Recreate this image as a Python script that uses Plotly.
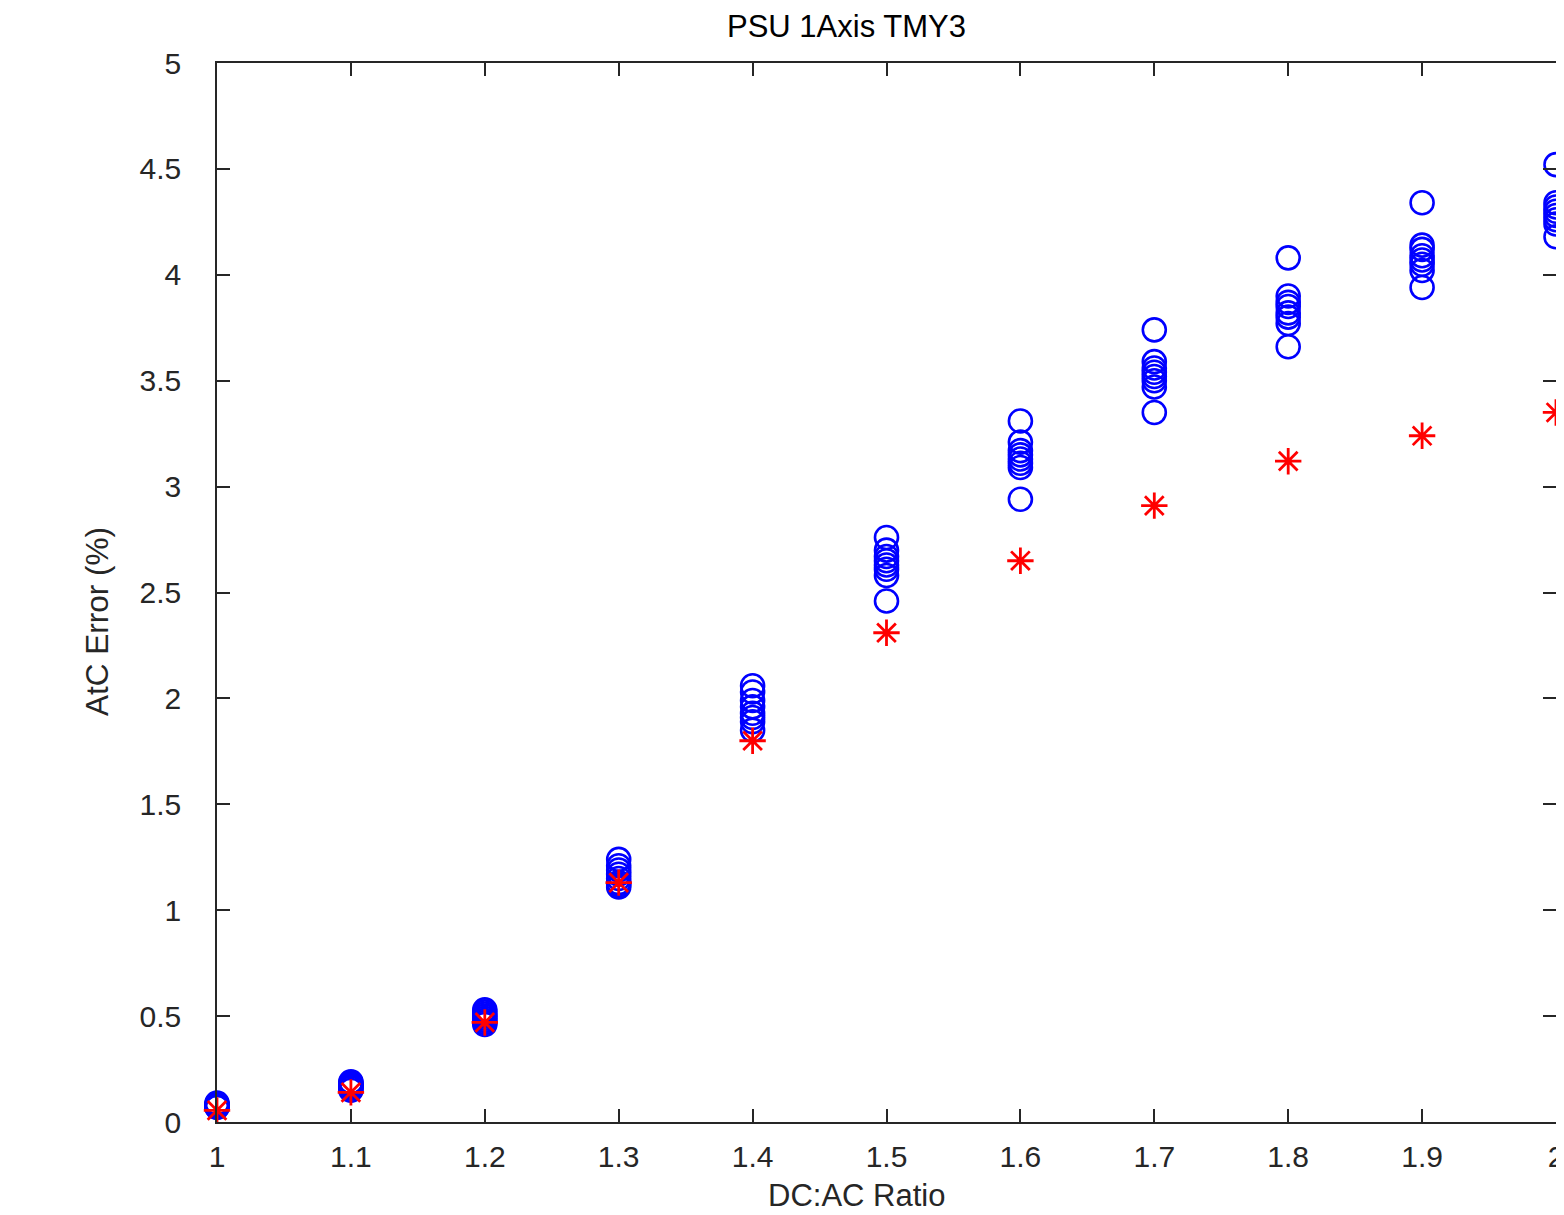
import plotly.graph_objects as go

ratios = [1.0, 1.1, 1.2, 1.3, 1.4, 1.5, 1.6, 1.7, 1.8, 1.9, 2.0]

# AtC error (%) for each trial at each DC:AC ratio (blue circles)
circle_values = [
    [0.09, 0.085, 0.08, 0.08, 0.075, 0.075, 0.07, 0.07],
    [0.19, 0.185, 0.18, 0.175, 0.17, 0.165, 0.16, 0.15],
    [0.53, 0.52, 0.51, 0.50, 0.49, 0.48, 0.47, 0.46],
    [1.24, 1.21, 1.19, 1.17, 1.15, 1.13, 1.12, 1.11],
    [2.06, 2.03, 1.99, 1.96, 1.93, 1.91, 1.89, 1.85],
    [2.76, 2.70, 2.67, 2.65, 2.63, 2.61, 2.58, 2.46],
    [3.31, 3.21, 3.17, 3.15, 3.13, 3.11, 3.09, 2.94],
    [3.74, 3.59, 3.56, 3.54, 3.52, 3.50, 3.47, 3.35],
    [4.08, 3.90, 3.87, 3.85, 3.82, 3.80, 3.77, 3.66],
    [4.34, 4.14, 4.12, 4.09, 4.07, 4.05, 4.02, 3.94],
    [4.52, 4.34, 4.32, 4.30, 4.28, 4.26, 4.24, 4.18],
]

# Red asterisks
star_values = [0.055, 0.14, 0.47, 1.13, 1.80, 2.31, 2.65, 2.91, 3.12, 3.24, 3.35]

x_ticks = [1, 1.1, 1.2, 1.3, 1.4, 1.5, 1.6, 1.7, 1.8, 1.9, 2]
x_tick_labels = ["1", "1.1", "1.2", "1.3", "1.4", "1.5", "1.6", "1.7", "1.8", "1.9", "2"]
y_ticks = [0, 0.5, 1, 1.5, 2, 2.5, 3, 3.5, 4, 4.5, 5]
y_tick_labels = ["0", "0.5", "1", "1.5", "2", "2.5", "3", "3.5", "4", "4.5", "5"]

title_text = "PSU 1Axis TMY3"
x_title = "DC:AC Ratio"
y_title = "AtC Error (%)"

cx, cy = [], []
for r, vals in zip(ratios, circle_values):
    for v in vals:
        cx.append(r)
        cy.append(v)

fig = go.Figure()
fig.add_trace(go.Scatter(
    x=cx, y=cy, mode="markers", cliponaxis=False,
    marker=dict(symbol="circle-open", size=23, color="#0000ff",
                line=dict(color="#0000ff", width=2.6)),
    showlegend=False,
))
fig.add_trace(go.Scatter(
    x=ratios, y=star_values, mode="markers", cliponaxis=False,
    marker=dict(symbol="asterisk-open", size=22, color="#ff0000",
                line=dict(color="#ff0000", width=2.8)),
    showlegend=False,
))

axis_color = "#262626"
font_family = "Liberation Sans, Arial, sans-serif"

fig.update_layout(
    width=1556, height=1207,
    margin=dict(l=209, r=8, t=55, b=93, pad=0, autoexpand=False),
    paper_bgcolor="white", plot_bgcolor="white",
    font=dict(family=font_family, size=30, color=axis_color),
    xaxis=dict(
        range=[1, 2], tickvals=x_ticks, ticktext=x_tick_labels,
        automargin=False, ticklabeloverflow="allow",
        showgrid=False, zeroline=False, showline=True, linecolor=axis_color,
        linewidth=1.5, mirror="ticks", ticks="inside", ticklen=13,
        tickwidth=1.5, tickcolor=axis_color, ticklabelstandoff=7,
        tickfont=dict(size=30, color=axis_color, family=font_family),
    ),
    yaxis=dict(
        range=[0, 5], tickvals=y_ticks, ticktext=y_tick_labels,
        automargin=False, ticklabeloverflow="allow",
        showgrid=False, zeroline=False, showline=True, linecolor=axis_color,
        linewidth=1.5, mirror="ticks", ticks="inside", ticklen=13,
        tickwidth=1.5, tickcolor=axis_color, ticklabelstandoff=28,
        tickfont=dict(size=30, color=axis_color, family=font_family),
    ),
    annotations=[
        dict(text=title_text, xref="paper", yref="paper",
             x=(846.5 - 217) / 1339, y=(1122 - 26) / 1059,
             xanchor="center", yanchor="middle", showarrow=False,
             font=dict(size=31, color="black", family=font_family)),
        dict(text=x_title, xref="paper", yref="paper",
             x=(856 - 217) / 1339, y=(1122 - 1195) / 1059,
             xanchor="center", yanchor="middle", showarrow=False,
             font=dict(size=31, color=axis_color, family=font_family)),
        dict(text=y_title, xref="paper", yref="paper",
             x=(97 - 217) / 1339, y=(1122 - 622) / 1059,
             xanchor="center", yanchor="middle", showarrow=False, textangle=-90,
             font=dict(size=31.5, color=axis_color, family=font_family)),
    ],
)

fig.write_html("out.html")
